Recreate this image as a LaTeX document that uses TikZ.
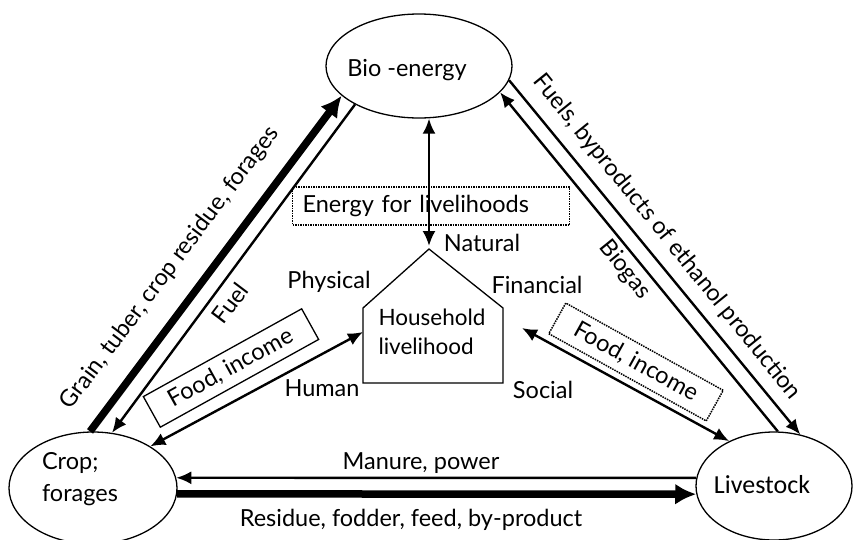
\documentclass[tikz,border=0pt]{standalone}
\usepackage{fontspec}
\setmainfont{Lato}
\newfontfamily\livefont{Carlito}
\usetikzlibrary{shapes.geometric,arrows.meta}
\tikzset{
  pool/.style={draw,ellipse,line width=1.3pt,inner sep=0pt},
  thin flow/.style={line width=2.4pt,-{Latex[length=15pt,width=13pt]}},
  both flow/.style={line width=2.4pt,{Latex[length=15pt,width=13pt]}-{Latex[length=15pt,width=13pt]}},
  thick flow/.style={line width=7.5pt,-{Latex[length=21pt,width=21pt]}},
  dotbox/.style={draw,densely dotted,line width=1.5pt},
}
\begin{document}
  \begin{tikzpicture}[x=1pt,y=-1pt,every node/.style={font=\fontsize{23.5}{28}\selectfont}]
    \useasboundingbox (0,0) rectangle (853,539);
    \node[pool,minimum width=186pt,minimum height=104pt] (bio) at (419,66) {};
    \node (biotext) at (407,70) {Bio -energy};
    \node[pool,minimum width=168pt,minimum height=112pt] (crop) at (93,488) {};
    \node[align=left,font=\fontsize{23.5}{32}\selectfont] (croptext) at (80,479) {Crop;\\forages};
    \node[pool,minimum width=156pt,minimum height=108pt] (live) at (774,486) {};
    \node[font=\livefont\fontsize{26}{30}\selectfont] (livetext) at (762,485) {Livestock};
    \coordinate (apex) at (429,249);
    \coordinate (hnw) at (363,308);
    \coordinate (hne) at (503,308);
    \coordinate (hsw) at (363,383);
    \coordinate (hse) at (503,383);
    \draw[line width=1.3pt] (apex) -- (hne) -- (hse) -- (hsw) -- (hnw) -- cycle;
    \node[align=left,font=\fontsize{22.5}{29}\selectfont] (house) at (432,332) {Household\\livelihood};
    \node (natural) at (482,243) {Natural};
    \node (physical) at (329,282) {Physical};
    \node (financial) at (537,285) {Financial};
    \node (human) at (322,388) {Human};
    \node (social) at (543,390) {Social};
    \node[dotbox,minimum height=38pt,text width=257pt,inner xsep=10pt,align=left] (energy) at (431,206) {Energy for livelihoods};
    \node[draw,line width=1.3pt,rotate=29,minimum width=181pt,minimum height=35pt] (foodl) at (231,368) {Food, income};
    \node[dotbox,rotate=-29,minimum width=180pt,minimum height=35pt] (foodr) at (636,362) {Food, income};
    \node[rotate=53] (grain) at (170,268) {Grain, tuber, crop residue, forages};
    \node[rotate=53] (fuel) at (230,303) {Fuel};
    \node[rotate=-51] (fuels) at (667,237) {Fuels, byproducts of ethanol production};
    \node[rotate=-51] (biogas) at (625,270) {Biogas};
    \node (manure) at (421,463) {Manure, power};
    \node (residue) at (411,520) {Residue, fodder, feed, by-product};
    \coordinate (hleft) at (363,332);
    \coordinate (hright) at (522,328);
    \draw[thick flow] (crop.93) -- (bio.201);
    \draw[thin flow] (bio.211) -- (crop.71);
    \draw[thin flow] (live.86) -- (bio.342);
    \draw[thin flow] (bio.351) -- (live.63);
    \draw[both flow,shorten <=3pt] (apex) -- (apex |- bio.south);
    \draw[both flow] (crop.36) -- (hleft);
    \draw[both flow] (hright) -- (live.135);
    \draw[thin flow] (live.174) -- (crop.7);
    \draw[thick flow] (crop.-4) -- (live.186);
  \end{tikzpicture}
\end{document}
